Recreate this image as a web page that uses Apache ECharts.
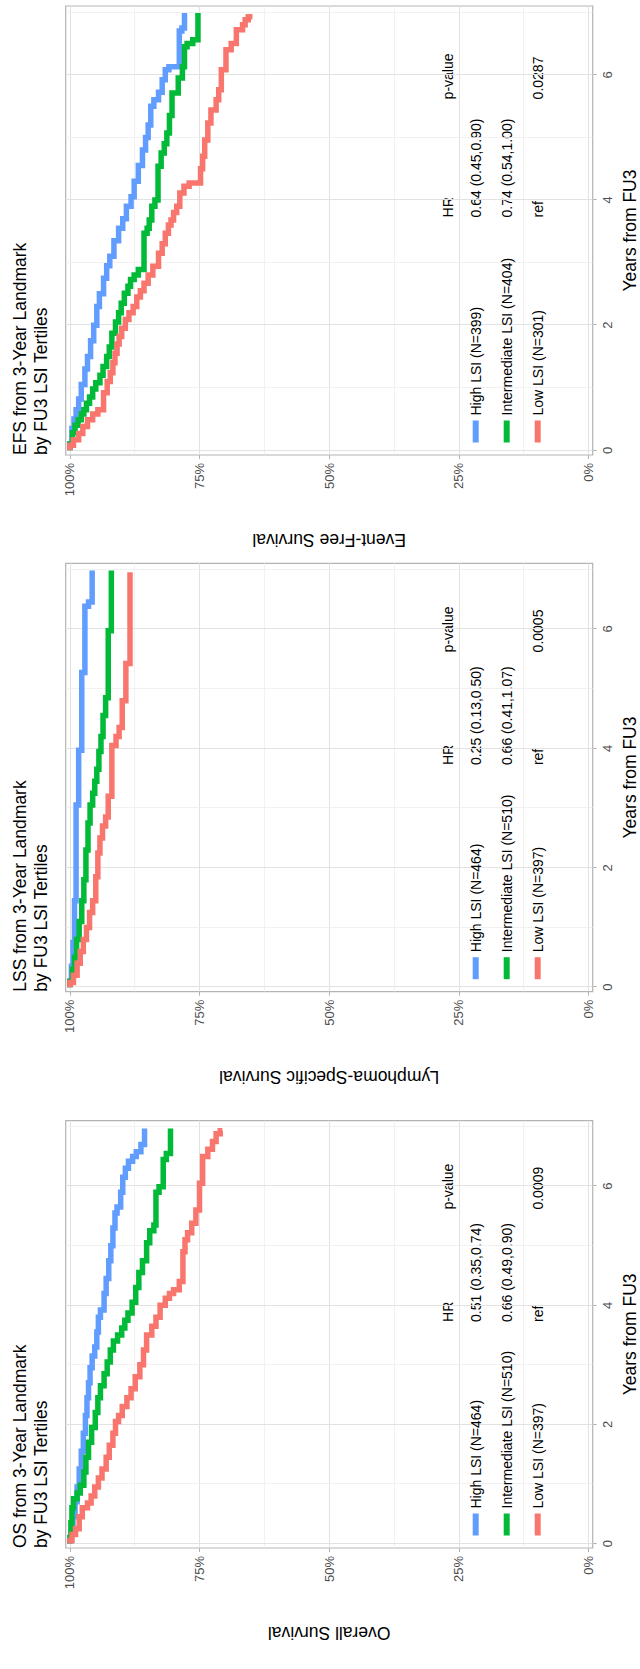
<!DOCTYPE html>
<html><head><meta charset="utf-8">
<script src="https://cdn.jsdelivr.net/npm/echarts@6/dist/echarts.min.js"></script>
<style>
html,body{margin:0;padding:0;background:#fff;overflow:hidden;}
#page{position:relative;width:640px;height:1669px;overflow:hidden;background:#fff;}
#chart{position:absolute;left:0;top:0;width:1669px;height:640px;transform-origin:0 0;transform:translate(0px,1669px) rotate(-90deg);}
</style></head><body><div id="page"><div id="chart"></div></div>
<script>
// ---------- data ----------
const groupNames = ['High LSI', 'Intermediate LSI', 'Low LSI'];
const groupColors = ['#619CFF', '#00BA38', '#F8766D'];
const panelTitles = [
  'OS from 3-Year Landmark\nby FU3 LSI Tertiles',
  'LSS from 3-Year Landmark\nby FU3 LSI Tertiles',
  'EFS from 3-Year Landmark\nby FU3 LSI Tertiles'
];
const yAxisTitles = ['Overall Survival', 'Lymphoma-Specific Survival', 'Event-Free Survival'];
const xAxisTitle = 'Years from FU3';
const groupN = [[464, 510, 397], [464, 510, 397], [399, 404, 301]];
const hrHeader = ['HR', 'p-value'];
const hrValues = [
  ['0.51 (0.35,0.74)', '0.66 (0.49,0.90)', 'ref'],
  ['0.25 (0.13,0.50)', '0.66 (0.41,1.07)', 'ref'],
  ['0.64 (0.45,0.90)', '0.74 (0.54,1.00)', 'ref']
];
const pValues = ['0.0009', '0.0005', '0.0287'];
const xMajorTicks = [0, 2, 4, 6];
const xMinorTicks = [1, 3, 5, 7];
const yMajorTicks = [0, 25, 50, 75, 100];
const yMinorTicks = [12.5, 37.5, 62.5, 87.5];

// OS (survival in %)
const osHighT = [0, 0.05, 0.2, 0.45, 0.7, 0.95, 1.25, 1.55, 1.85, 2.15, 2.45, 2.7, 2.95, 3.15, 3.3, 3.55, 3.8, 3.92, 4.2, 4.45, 4.75, 5.0, 5.3, 5.55, 5.65, 5.9, 6.15, 6.3, 6.42, 6.5, 6.58, 6.7, 6.97];
const osHighS = [100, 99.7, 99.4, 99.0, 98.6, 98.2, 97.8, 97.4, 97.0, 96.7, 96.4, 96.1, 95.7, 95.2, 94.8, 94.5, 94.1, 93.4, 93.0, 92.5, 92.1, 91.7, 91.3, 90.9, 90.2, 89.8, 89.3, 88.7, 87.9, 87.2, 86.3, 85.6, 85.6];
const osIntT = [0, 0.1, 0.35, 0.6, 0.75, 0.85, 0.98, 1.2, 1.45, 1.7, 1.95, 2.2, 2.45, 2.65, 2.85, 3.05, 3.25, 3.4, 3.5, 3.62, 3.75, 3.87, 4.05, 4.3, 4.55, 4.75, 5.05, 5.25, 5.35, 5.9, 5.99, 6.45, 6.55, 6.97];
const osIntS = [100, 99.8, 99.6, 99.3, 98.6, 98.0, 97.3, 96.9, 96.4, 95.8, 95.1, 94.6, 94.1, 93.4, 92.8, 92.2, 91.6, 90.8, 90.0, 89.4, 88.8, 88.0, 87.3, 86.7, 86.0, 85.2, 84.6, 83.8, 83.4, 82.8, 82.0, 81.4, 80.6, 80.6];
const osLowT = [0, 0.05, 0.15, 0.25, 0.45, 0.6, 0.68, 0.8, 0.95, 1.1, 1.25, 1.45, 1.65, 1.85, 2.05, 2.15, 2.3, 2.45, 2.6, 2.8, 3.0, 3.25, 3.5, 3.65, 3.8, 4.0, 4.12, 4.2, 4.26, 4.4, 4.9, 5.1, 5.22, 5.38, 5.6, 6.05, 6.5, 6.62, 6.75, 6.88, 6.93];
const osLowS = [100, 99.6, 98.9, 98.2, 97.6, 96.6, 95.9, 95.2, 94.5, 93.8, 93.0, 92.4, 91.7, 91.2, 90.6, 89.9, 89.0, 88.2, 87.4, 86.5, 85.8, 85.2, 84.2, 83.4, 82.6, 81.6, 80.8, 80.0, 78.9, 78.2, 77.8, 77.3, 76.5, 75.7, 75.0, 74.4, 73.4, 72.5, 71.8, 71.0, 70.6];

// LSS
const lssHighT = [0, 0.1, 0.35, 0.75, 1.45, 3.05, 3.97, 5.27, 6.38, 6.45, 6.98];
const lssHighS = [100, 99.7, 99.4, 99.1, 98.8, 98.3, 97.7, 97.1, 96.4, 95.7, 95.7];
const lssIntT = [0, 0.1, 0.3, 0.5, 0.8, 1.1, 1.45, 1.8, 2.3, 2.75, 3.05, 3.25, 3.45, 3.65, 3.95, 4.2, 4.55, 4.85, 5.97, 6.98];
const lssIntS = [100, 99.5, 99.1, 98.7, 98.2, 97.7, 97.3, 96.9, 96.5, 96.1, 95.6, 95.2, 94.8, 94.4, 94.0, 93.6, 93.1, 92.6, 92.0, 92.0];
const lssLowT = [0, 0.08, 0.2, 0.4, 0.6, 0.8, 1.0, 1.25, 1.45, 1.85, 2.25, 2.5, 2.7, 2.85, 3.2, 4.05, 4.2, 4.35, 4.8, 5.42, 6.95];
const lssLowS = [100, 99.3, 98.6, 98.0, 97.4, 96.8, 96.2, 95.6, 95.0, 94.6, 94.2, 93.7, 93.1, 92.6, 91.9, 91.1, 90.5, 89.9, 89.2, 88.4, 88.4];

// EFS
const efsHighT = [0, 0.1, 0.35, 0.5, 0.65, 0.82, 1.05, 1.3, 1.5, 1.75, 2.0, 2.3, 2.5, 2.75, 2.95, 3.1, 3.35, 3.55, 3.7, 3.9, 4.05, 4.3, 4.55, 4.8, 5.0, 5.2, 5.5, 5.6, 5.72, 5.92, 6.08, 6.13, 6.7, 6.75, 6.99];
const efsHighS = [100, 99.6, 99.2, 98.8, 98.3, 97.8, 97.1, 96.6, 96.0, 95.4, 94.8, 94.3, 93.5, 92.9, 92.3, 91.5, 90.6, 89.8, 89.1, 88.2, 87.6, 86.8, 86.0, 85.4, 84.9, 84.4, 83.8, 82.9, 82.2, 81.6, 80.9, 78.9, 78.4, 77.9, 77.9];
const efsIntT = [0, 0.1, 0.28, 0.4, 0.49, 0.58, 0.65, 0.75, 0.85, 0.98, 1.08, 1.2, 1.34, 1.5, 1.65, 1.87, 2.05, 2.2, 2.35, 2.51, 2.62, 2.73, 2.8, 2.89, 3.47, 3.55, 3.68, 3.9, 4.0, 4.54, 4.75, 4.9, 5.07, 5.35, 5.71, 5.95, 6.13, 6.45, 6.5, 6.56, 6.99];
const efsIntS = [100, 99.5, 99.0, 98.4, 97.8, 97.3, 96.8, 96.2, 95.6, 95.0, 94.2, 93.6, 92.9, 92.4, 91.9, 91.2, 90.6, 90.1, 89.5, 88.8, 88.3, 87.6, 86.8, 85.7, 85.1, 84.7, 84.2, 83.6, 83.0, 82.4, 81.8, 81.3, 80.8, 80.3, 79.1, 78.3, 77.9, 77.4, 76.3, 75.3, 75.3];
const efsLowT = [0, 0.08, 0.17, 0.27, 0.38, 0.49, 0.58, 0.65, 0.92, 1.1, 1.24, 1.4, 1.55, 1.7, 1.82, 1.95, 2.09, 2.2, 2.3, 2.45, 2.55, 2.67, 2.8, 2.94, 3.15, 3.3, 3.47, 3.6, 3.68, 3.8, 3.9, 4.11, 4.22, 4.27, 4.5, 4.7, 4.96, 5.23, 5.44, 5.6, 5.76, 6.08, 6.4, 6.5, 6.72, 6.8, 6.88, 6.93];
const efsLowS = [100, 99.3, 98.3, 97.5, 96.6, 95.6, 94.6, 93.5, 92.8, 92.2, 91.7, 91.3, 90.9, 90.5, 90.0, 89.3, 88.6, 87.8, 87.1, 86.4, 85.7, 84.9, 84.0, 82.9, 82.2, 81.6, 81.0, 80.5, 80.0, 79.4, 78.8, 78.0, 77.0, 74.8, 74.4, 74.0, 73.4, 72.8, 71.8, 71.3, 70.8, 69.9, 68.9, 67.9, 66.7, 66.2, 65.6, 64.8];

const curveTimes = [[osHighT, osIntT, osLowT], [lssHighT, lssIntT, lssLowT], [efsHighT, efsIntT, efsLowT]];
const curveSurv = [[osHighS, osIntS, osLowS], [lssHighS, lssIntS, lssLowS], [efsHighS, efsIntS, efsLowS]];

// ---------- layout (landscape frame, rotated by CSS) ----------
const FONT = '"Liberation Sans", Arial, Helvetica, sans-serif';
const panels = [
  { left: 121, width: 427.3 },
  { left: 677.3, width: 428.4 },
  { left: 1214, width: 449 }
];
const gridTop = 65.7, gridHeight = 527;
const xMin = -0.075, xMax = 7.1, yMin = -0.8, yMax = 100.8;
const rowY = [476, 507, 537.5], headerY = 447.5;

const option = {
  animation: false,
  backgroundColor: '#fff',
  textStyle: { fontFamily: FONT },
  title: [], grid: [], xAxis: [], yAxis: [], series: [], legend: [], graphic: []
};

panels.forEach((p, i) => {
  option.title.push({
    text: panelTitles[i], left: p.left, top: 9, padding: 0,
    textStyle: { fontSize: 17.5, lineHeight: 21, fontWeight: 'normal', color: '#000', fontFamily: FONT }
  });
  option.grid.push({
    left: p.left, top: gridTop, width: p.width, height: gridHeight,
    show: true, borderColor: '#b3b3b3', borderWidth: 1.2, backgroundColor: 'transparent',
    containLabel: false, outerBoundsMode: 'none'
  });
  option.xAxis.push({
    type: 'value', gridIndex: i, min: xMin, max: xMax, position: 'bottom',
    axisLine: { show: false, onZero: false },
    axisTick: { show: true, length: 4, customValues: xMajorTicks, lineStyle: { color: '#b3b3b3', width: 1 } },
    axisLabel: { customValues: xMajorTicks, margin: 8, fontSize: 13, color: '#4d4d4d', fontFamily: FONT },
    splitLine: { show: true, lineStyle: { color: '#e2e2e2', width: 1 } },
    name: xAxisTitle, nameLocation: 'middle', nameGap: 28,
    nameTextStyle: { fontSize: 17.5, color: '#000', fontFamily: FONT }
  });
  option.xAxis.push({
    type: 'value', gridIndex: i, min: xMin, max: xMax, position: 'top',
    axisLine: { show: false, onZero: false },
    axisTick: { show: false, customValues: xMinorTicks },
    axisLabel: { show: false },
    splitLine: { show: true, lineStyle: { color: '#eeeeee', width: 0.8 } }
  });
  option.yAxis.push({
    type: 'value', gridIndex: i, min: yMin, max: yMax, position: 'left',
    axisLine: { show: false, onZero: false },
    axisTick: { show: true, length: 4, customValues: yMajorTicks, lineStyle: { color: '#b3b3b3', width: 1 } },
    axisLabel: { customValues: yMajorTicks, formatter: '{value}%', margin: 8, fontSize: 13, color: '#4d4d4d', fontFamily: FONT },
    splitLine: { show: true, lineStyle: { color: '#e2e2e2', width: 1 } },
    name: yAxisTitles[i], nameLocation: 'middle', nameRotate: 90, nameGap: 76,
    nameTextStyle: { fontSize: 17.5, color: '#000', fontFamily: FONT }
  });
  option.yAxis.push({
    type: 'value', gridIndex: i, min: yMin, max: yMax, position: 'right',
    axisLine: { show: false, onZero: false },
    axisTick: { show: false, customValues: yMinorTicks },
    axisLabel: { show: false },
    splitLine: { show: true, lineStyle: { color: '#eeeeee', width: 0.8 } }
  });

  const names = groupNames.map((g, k) => g + ' (N=' + groupN[i][k] + ')');
  names.forEach((nm, k) => {
    const T = curveTimes[i][k], S = curveSurv[i][k];
    option.series.push({
      type: 'line', name: nm, xAxisIndex: i * 2, yAxisIndex: i * 2,
      step: 'end', showSymbol: false, symbol: 'none', silent: true,
      color: groupColors[k],
      lineStyle: { width: 5.5, color: groupColors[k], cap: 'butt', join: 'miter' },
      data: T.map((t, j) => [t, S[j]])
    });
  });
  option.legend.push({
    show: true, orient: 'vertical', left: p.left + 12.5, top: 467.7,
    itemWidth: 22, itemHeight: 6, itemGap: 15, icon: 'rect', selectedMode: false, padding: 0,
    textStyle: { fontSize: 14, lineHeight: 16, color: '#000', fontFamily: FONT },
    data: names
  });
  const hrX = p.left + 0.529 * p.width, pX = p.left + 0.792 * p.width;
  const txt = (s, x, y) => ({
    type: 'text', x: x, y: y, silent: true,
    style: { text: s, fontSize: 14, fontFamily: FONT, fill: '#000',
             align: 'left', verticalAlign: 'middle', textAlign: 'left', textVerticalAlign: 'middle' }
  });
  option.graphic.push(txt(hrHeader[0], hrX, headerY));
  option.graphic.push(txt(hrHeader[1], pX, headerY));
  hrValues[i].forEach((v, k) => option.graphic.push(txt(v, hrX, rowY[k])));
  option.graphic.push(txt(pValues[i], pX, rowY[2]));
});

const chart = echarts.init(document.getElementById('chart'), null, { renderer: 'svg', width: 1669, height: 640 });
chart.setOption(option);
</script></body></html>
